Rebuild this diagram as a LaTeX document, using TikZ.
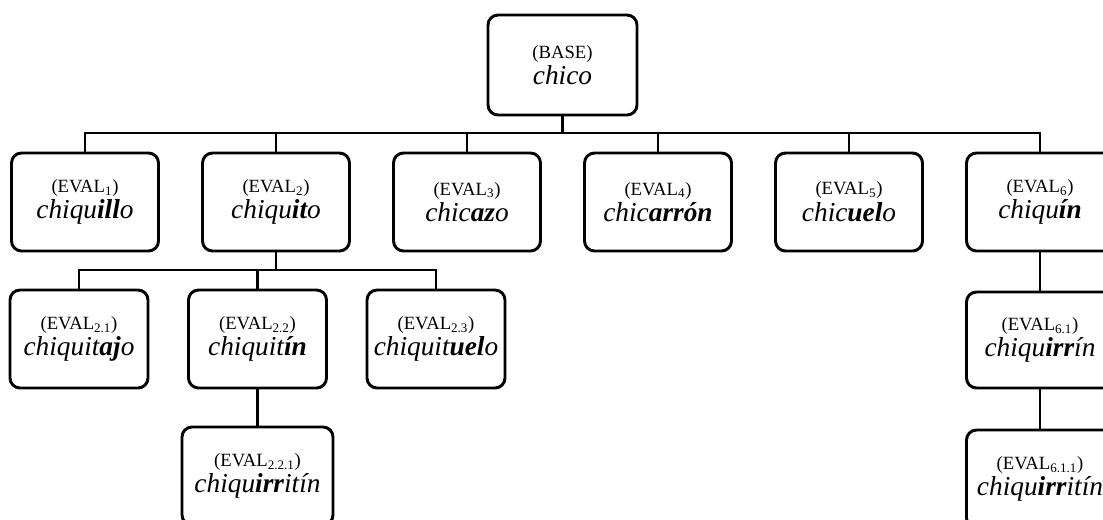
\documentclass[tikz,border=0pt]{standalone}
\usepackage{fontspec}
\setmainfont{Liberation Serif}
\newcommand\mylab[1]{{\fontsize{14}{20}\selectfont(#1)}}
\newcommand\myword[1]{{\fontsize{20.5}{20}\selectfont\itshape #1}}
\newcommand\bi[1]{\textbf{#1}}
\tikzset{
  nbox/.style={draw, line width=2.2pt, rounded corners=7.5pt, align=center,
    inner sep=0pt, minimum width=110.25pt, minimum height=73.5pt,
    font=\fontsize{20.5}{20}\selectfont},
  sbox/.style={nbox, minimum width=103.5pt},
  conn/.style={line width=2.2pt}
}
\begin{document}
\begin{tikzpicture}[x=0.75pt,y=-0.75pt]
\useasboundingbox (0,0) rectangle (1103,519);
\clip (0,0) rectangle (1103,519);
\node[nbox, minimum width=111.75pt, minimum height=75pt] (base) at (562.5,65) {\mylab{BASE}\\\myword{chico}};
\node[nbox] (e1) at (85,202) {\mylab{EVAL\textsubscript{1}}\\\myword{chiqu\bi{ill}o}};
\node[nbox] (e2) at (276,202) {\mylab{EVAL\textsubscript{2}}\\\myword{chiqu\bi{it}o}};
\node[nbox] (e3) at (467,202) {\mylab{EVAL\textsubscript{3}}\\\myword{chic\bi{az}o}};
\node[nbox] (e4) at (658,202) {\mylab{EVAL\textsubscript{4}}\\\myword{chic\bi{arrón}}};
\node[nbox] (e5) at (849,202) {\mylab{EVAL\textsubscript{5}}\\\myword{chic\bi{uel}o}};
\node[nbox] (e6) at (1040,202) {\mylab{EVAL\textsubscript{6}}\\\myword{chiqu\bi{ín}}};
\node[sbox] (e21) at (79,339) {\mylab{EVAL\textsubscript{2.1}}\\\myword{chiquit\bi{aj}o}};
\node[sbox] (e22) at (257.5,339) {\mylab{EVAL\textsubscript{2.2}}\\\myword{chiquit\bi{ín}}};
\node[sbox] (e23) at (436,339) {\mylab{EVAL\textsubscript{2.3}}\\\myword{chiquit\bi{uel}o}};
\node[nbox, minimum width=113.25pt] (e221) at (257.5,476) {\mylab{EVAL\textsubscript{2.2.1}}\\\myword{chiqu\bi{irr}itín}};
\node[nbox, minimum height=72pt] (e61) at (1040,340) {\mylab{EVAL\textsubscript{6.1}}\\\myword{chiqu\bi{irr}ín}};
\node[nbox] (e611) at (1040,479) {\mylab{EVAL\textsubscript{6.1.1}}\\\myword{chiqu\bi{irr}itín}};
\coordinate (bar) at (562.5,133);
\coordinate (bar2) at (276,270);
\draw[conn] (base.south) -- (bar);
\foreach \n in {e1,e2,e3,e4,e5,e6} \draw[conn] (\n.north) |- (bar);
\draw[conn] (e2.south) -- (bar2);
\foreach \n in {e21,e22,e23} \draw[conn] (\n.north) |- (bar2);
\draw[conn] (e22.south) -- (e221.north);
\draw[conn] (e6.south) -- (e61.north);
\draw[conn] (e61.south) -- (e611.north);
\end{tikzpicture}
\end{document}
